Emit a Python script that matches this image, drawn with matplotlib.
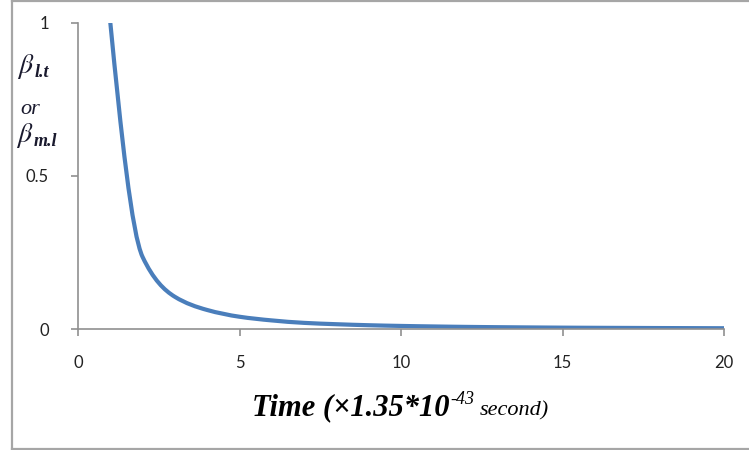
import matplotlib
matplotlib.use("Agg")
import matplotlib.pyplot as plt
import numpy as np
from matplotlib.path import Path
from matplotlib.patches import PathPatch
from matplotlib.lines import Line2D

# Data
time = [1, 2, 3, 4, 5, 6, 7, 8, 9, 10, 11, 12, 13, 14, 15, 16, 17, 18, 19, 20]
beta = [1.0, 0.235, 0.105, 0.062, 0.04, 0.028, 0.020, 0.0156, 0.0123, 0.010,
        0.0083, 0.0069, 0.0059, 0.0051, 0.0044, 0.0039, 0.0035, 0.0031, 0.0028, 0.0025]
xticks = [0, 5, 10, 15, 20]
yticks = [0, 0.5, 1]
yticklabels = ["0", "0.5", "1"]

plt.rcParams['mathtext.fontset'] = 'stix'

W, H = 749, 450
fig = plt.figure(figsize=(W / 100, H / 100), dpi=100)
fig.patch.set_facecolor("white")

# outer border (left, top, bottom)
bc = "#a6a6a6"
for xs, ys in [([11.5, 11.5], [1, 448.5]), ([11.5, W + 2], [1, 1]), ([11.5, W + 2], [448.5, 448.5])]:
    fig.lines.append(Line2D([v / W for v in xs], [1 - v / H for v in ys],
                            transform=fig.transFigure, color=bc, linewidth=1.6))

ax = fig.add_axes([78 / W, (H - 329) / H, (724 - 78) / W, (329 - 22.5) / H])

# smoothed line: monotone cubic (Fritsch-Carlson) Bezier through the data points
x = np.asarray(time, float)
y = np.asarray(beta, float)
n = len(x)
h = np.diff(x)
d = np.diff(y) / h
m = np.zeros(n)
for k in range(1, n - 1):
    if d[k - 1] * d[k] > 0:
        w1 = 2 * h[k] + h[k - 1]
        w2 = h[k] + 2 * h[k - 1]
        m[k] = (w1 + w2) / (w1 / d[k - 1] + w2 / d[k])
m[0] = ((2 * h[0] + h[1]) * d[0] - h[0] * d[1]) / (h[0] + h[1])
m[-1] = ((2 * h[-1] + h[-2]) * d[-1] - h[-1] * d[-2]) / (h[-1] + h[-2])
verts = [(x[0], y[0])]
codes = [Path.MOVETO]
for i in range(n - 1):
    c1 = (x[i] + h[i] / 3, y[i] + m[i] * h[i] / 3)
    c2 = (x[i + 1] - h[i] / 3, y[i + 1] - m[i + 1] * h[i] / 3)
    verts += [c1, c2, (x[i + 1], y[i + 1])]
    codes += [Path.CURVE4] * 3
ax.add_patch(PathPatch(Path(verts, codes), facecolor="none", edgecolor="#4a7ebb",
                       linewidth=3.0, capstyle="butt", joinstyle="round"))

ax.set_xlim(0, 20)
ax.set_ylim(0, 1)
ax.set_xticks(xticks)
ax.set_yticks(yticks)
ax.set_yticklabels(yticklabels)
for s in ["top", "right"]:
    ax.spines[s].set_visible(False)
for s in ["left", "bottom"]:
    ax.spines[s].set_color("#909090")
    ax.spines[s].set_linewidth(1.2)
ax.tick_params(direction="out", length=5, width=1.2, color="#909090",
               labelsize=12, labelcolor="#222222")
ax.tick_params(axis="x", pad=14)
ax.tick_params(axis="y", pad=16)
for lab in ax.get_xticklabels() + ax.get_yticklabels():
    lab.set_fontfamily("Lato")

# y label (stacked)
tc = "#1a1a2e"
renderer = fig.canvas.get_renderer()
for (bx, by, sub) in [(17, 73, "l.t"), (16, 142, "m.l")]:
    tb = fig.text(bx / W, 1 - by / H, r"$\beta$", fontsize=20, ha="left",
                  va="baseline", color=tc)
    e = tb.get_window_extent(renderer)
    fig.text(e.x1 / W, 1 - (by + 4) / H, sub, fontsize=13, ha="left", va="baseline",
             family="Liberation Serif", style="italic", weight="bold", color=tc)
fig.text(20 / W, 1 - 114 / H, "or", fontsize=16, ha="left", va="baseline",
         family="Liberation Serif", style="italic", color=tc)

# x label composed of parts
base_y = 1 - 415 / H
x0 = 252 / W
t1 = fig.text(x0, base_y, "Time (×1.35*10", fontsize=22, family="Liberation Serif",
              style="italic", weight="bold", ha="left", va="baseline")
bb = t1.get_window_extent(renderer)
t2 = fig.text(bb.x1 / W + 0.001, base_y + 11 / H, "-43", fontsize=13,
              family="Liberation Serif", style="italic", ha="left", va="baseline")
bb2 = t2.get_window_extent(renderer)
t3 = fig.text(bb2.x1 / W + 0.007, base_y, "second)", fontsize=16,
              family="Liberation Serif", style="italic", ha="left", va="baseline")

fig.savefig("out.png", dpi=100)
